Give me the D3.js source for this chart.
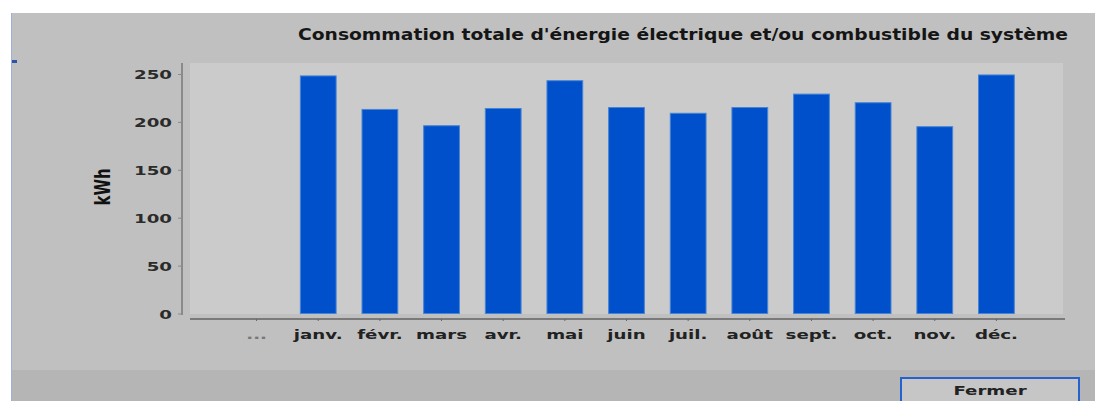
<!DOCTYPE html>
<html>
<head>
<meta charset="utf-8">
<script src="https://cdn.jsdelivr.net/npm/d3@7"></script>
<style>
  body { margin: 0; background: #fff; }
  text { font-family: "DejaVu Sans", Verdana, sans-serif; font-weight: bold; }
</style>
</head>
<body>
<div id="chart"></div>
<script>
// data
var categories = ["...", "janv.", "févr.", "mars", "avr.", "mai", "juin", "juil.", "août", "sept.", "oct.", "nov.", "déc."];
var consumption = [null, 248, 213, 196, 214, 243, 215, 209, 215, 229, 220, 195, 249];
var yTicks = [0, 50, 100, 150, 200, 250];
var title = "Consommation totale d'énergie électrique et/ou combustible du système";
var yTitle = "kWh";

var W = 1095, H = 401;
var stretch = 1.4; // the screenshot is wide, text is drawn stretched
var plot = {left: 190, right: 1063, top: 63, bottom: 314};

var svg = d3.select("#chart").append("svg")
    .attr("width", W)
    .attr("height", H);

// window background
svg.append("rect").attr("x", 11).attr("y", 13).attr("width", W - 11).attr("height", H - 13).style("fill", "#c0c0c0");
svg.append("rect").attr("x", 11).attr("y", 370).attr("width", W - 11).attr("height", H - 370).style("fill", "#b5b5b5");
svg.append("line").attr("x1", 11.5).attr("x2", 11.5).attr("y1", 13).attr("y2", H)
    .style("stroke", "#9db1d9").style("stroke-width", 1);
svg.append("rect").attr("x", 12).attr("y", 60).attr("width", 5).attr("height", 3).style("fill", "#2a55a8");

var x = d3.scaleBand()
    .domain(categories)
    .range([plot.left, plot.right])
    .paddingInner(0.42)
    .paddingOuter(0.79);

var y = d3.scaleLinear()
    .domain([0, 250])
    .range([313.5, 74]);

// plot background
svg.append("rect")
    .attr("x", plot.left)
    .attr("y", plot.top)
    .attr("width", plot.right - plot.left)
    .attr("height", plot.bottom - plot.top)
    .style("fill", "#cbcbcb");

// bars
var rows = categories.map(function (c, i) { return {cat: c, value: consumption[i]}; })
    .filter(function (d) { return d.value !== null; });

svg.selectAll(".bar")
    .data(rows)
    .enter()
    .append("rect")
    .attr("class", "bar")
    .attr("x", function (d) { return x(d.cat); })
    .attr("y", function (d) { return y(d.value); })
    .attr("width", x.bandwidth())
    .attr("height", function (d) { return y(0) - y(d.value); })
    .style("fill", "#004fcb")
    .style("stroke", "#4585d6")
    .style("stroke-width", 1);

// y axis
var yAxis = svg.append("g")
    .attr("transform", "translate(182,0)")
    .call(d3.axisLeft(y).tickValues(yTicks).tickSize(4).tickSizeOuter(0));
yAxis.select(".domain").attr("d", "M0," + plot.top + "V" + (plot.bottom + 1))
    .style("stroke", "#8a8a8a").style("stroke-width", 2);
yAxis.selectAll(".tick line").style("stroke", "#8a8a8a");
yAxis.selectAll(".tick text")
    .attr("x", -10 / stretch)
    .attr("dy", "0.36em")
    .attr("transform", "scale(" + stretch + ",1)")
    .style("font-size", "13px")
    .style("fill", "#2b2b2b");

// x axis
var xAxis = svg.append("g")
    .attr("transform", "translate(0,319)")
    .call(d3.axisBottom(x).tickSize(2).tickSizeOuter(0).tickPadding(9));
xAxis.select(".domain").attr("d", "M" + plot.left + ",0H" + (plot.right + 2))
    .style("stroke", "#7a7a7a").style("stroke-width", 2);
xAxis.selectAll(".tick line").style("stroke", "#666");
xAxis.selectAll(".tick text")
    .attr("transform", "scale(" + stretch + ",1)")
    .style("font-size", "13px")
    .style("fill", function (d) { return d === "..." ? "#777" : "#222"; });

// titles
svg.append("text")
    .attr("x", 298)
    .attr("y", 40)
    .attr("textLength", 770)
    .attr("lengthAdjust", "spacingAndGlyphs")
    .style("font-size", "15px")
    .style("fill", "#151515")
    .text(title);

svg.append("text")
    .attr("transform", "translate(110,187) scale(" + stretch + ",1) rotate(-90)")
    .style("text-anchor", "middle")
    .style("font-size", "15px")
    .style("fill", "#111")
    .text(yTitle);

// close button
svg.append("rect")
    .attr("x", 901).attr("y", 378).attr("width", 178).attr("height", 30)
    .style("fill", "#c6c6c6")
    .style("stroke", "#2462cf")
    .style("stroke-width", 2);
svg.append("text")
    .attr("transform", "translate(990,395) scale(" + stretch + ",1)")
    .style("text-anchor", "middle")
    .style("font-size", "13px")
    .style("fill", "#222")
    .text("Fermer");
</script>
</body>
</html>
